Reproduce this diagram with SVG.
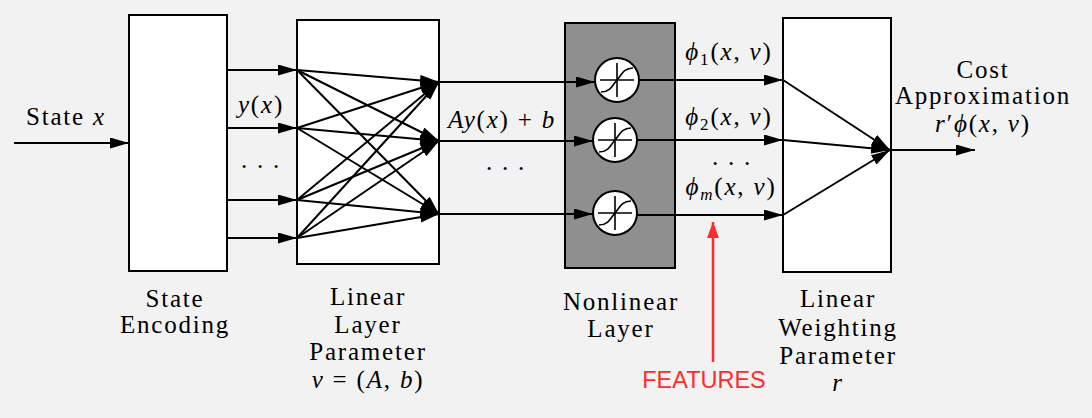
<svg xmlns="http://www.w3.org/2000/svg" xmlns:xlink="http://www.w3.org/1999/xlink" width="1092" height="418" viewBox="0 0 1092 418" font-family="Liberation Serif, Tinos, Times New Roman, Times, DejaVu Serif, serif">
<style>
  .box { fill: #ffffff; stroke: #000000; stroke-width: 2; }
  .dark { fill: #8f8f8f; stroke: #000000; stroke-width: 2; }
  .arr { stroke: #000000; stroke-width: 2; fill: none; marker-end: url(#ah); }
  .t { font-size: 25px; fill: #000000; text-anchor: middle; letter-spacing: 1.8px; }
  .i { font-style: italic; }
  .sub { font-size: 17px; }
  .feat { font-family: 'Liberation Sans', Arial, sans-serif; font-size: 23.5px; fill: #ff2b2b; text-anchor: middle; }
</style>
<defs>
  <marker id="ah" markerUnits="userSpaceOnUse" markerWidth="20" markerHeight="12" refX="19" refY="5.5" orient="auto">
    <path d="M0,0 L19,5.5 L0,11 z" fill="#000000"/>
  </marker>
  <marker id="ahr" markerUnits="userSpaceOnUse" markerWidth="17" markerHeight="13" refX="16" refY="6" orient="auto">
    <path d="M0,0 L16,6 L0,12 z" fill="#ff2b2b"/>
  </marker>
  <g id="sig">
    <circle cx="0" cy="0" r="22" fill="#ffffff" stroke="#000000" stroke-width="2"/>
    <path d="M-17,0 H17 M0,-17 V17" stroke="#000000" stroke-width="1.6" fill="none"/>
    <path d="M-16,12 C-6,12 -4,4 0,0 C4,-4 6,-12 16,-12" stroke="#000000" stroke-width="1.6" fill="none"/>
  </g>
</defs>
<rect width="1092" height="418" fill="#f2f2f2"/>

<g id="state-encoding">
  <rect class="box" x="129" y="15" width="98" height="256"/>
  <text class="t" x="175" y="307">State</text>
  <text class="t" x="175" y="333">Encoding</text>
</g>

<g id="linear-layer">
  <rect class="box" x="297" y="20" width="142" height="244"/>
  <text class="t" x="368" y="305">Linear</text>
  <text class="t" x="368" y="333">Layer</text>
  <text class="t" x="368" y="360">Parameter</text>
  <text class="t" x="368" y="388"><tspan class="i">v</tspan> = (<tspan class="i">A</tspan>, <tspan class="i">b</tspan>)</text>
</g>

<g id="nonlinear-layer">
  <rect class="dark" x="565" y="23" width="110" height="245"/>
  <text class="t" x="621" y="310">Nonlinear</text>
  <text class="t" x="621" y="337">Layer</text>
</g>

<g id="linear-weighting">
  <rect class="box" x="783" y="18" width="108" height="254"/>
  <text class="t" x="838" y="307">Linear</text>
  <text class="t" x="838" y="336">Weighting</text>
  <text class="t" x="838" y="364">Parameter</text>
  <text class="t i" x="838" y="391">r</text>
</g>

<g id="connectors">
  <line class="arr" x1="14" y1="143" x2="129" y2="143"/>
  <line class="arr" x1="227" y1="70" x2="297" y2="70"/>
  <line class="arr" x1="227" y1="128" x2="297" y2="128"/>
  <line class="arr" x1="227" y1="200" x2="297" y2="200"/>
  <line class="arr" x1="227" y1="238" x2="297" y2="238"/>
  <line class="arr" x1="297" y1="70" x2="439" y2="82"/>
  <line class="arr" x1="297" y1="70" x2="439" y2="141"/>
  <line class="arr" x1="297" y1="70" x2="439" y2="214"/>
  <line class="arr" x1="297" y1="128" x2="439" y2="82"/>
  <line class="arr" x1="297" y1="128" x2="439" y2="141"/>
  <line class="arr" x1="297" y1="128" x2="439" y2="214"/>
  <line class="arr" x1="297" y1="200" x2="439" y2="82"/>
  <line class="arr" x1="297" y1="200" x2="439" y2="141"/>
  <line class="arr" x1="297" y1="200" x2="439" y2="214"/>
  <line class="arr" x1="297" y1="238" x2="439" y2="82"/>
  <line class="arr" x1="297" y1="238" x2="439" y2="141"/>
  <line class="arr" x1="297" y1="238" x2="439" y2="214"/>
  <line class="arr" x1="439" y1="82" x2="595" y2="82"/>
  <line class="arr" x1="439" y1="141" x2="593" y2="141"/>
  <line class="arr" x1="439" y1="214" x2="593" y2="214"/>
  <line class="arr" x1="639" y1="80" x2="783" y2="80"/>
  <line class="arr" x1="637" y1="140" x2="783" y2="140"/>
  <line class="arr" x1="637" y1="215" x2="783" y2="215"/>
  <line class="arr" x1="783" y1="80" x2="890" y2="150"/>
  <line class="arr" x1="783" y1="140" x2="890" y2="150"/>
  <line class="arr" x1="783" y1="215" x2="890" y2="150"/>
  <line class="arr" x1="890" y1="150" x2="975" y2="150"/>
  <line x1="713" y1="362" x2="713" y2="222" stroke="#ff2b2b" stroke-width="2.5" marker-end="url(#ahr)"/>
</g>

<g id="nonlinear-units">
  <use xlink:href="#sig" x="617" y="80"/>
  <use xlink:href="#sig" x="615" y="140"/>
  <use xlink:href="#sig" x="615" y="213"/>
</g>

<g id="labels">
  <text class="t" x="66" y="125">State <tspan class="i">x</tspan></text>
  <text class="t" x="261" y="113"><tspan class="i">y</tspan>(<tspan class="i">x</tspan>)</text>
  <text class="t" x="261" y="168">. . .</text>
  <text class="t" x="502" y="128"><tspan class="i">Ay</tspan>(<tspan class="i">x</tspan>) + <tspan class="i">b</tspan></text>
  <text class="t" x="506" y="170">. . .</text>
  <text class="t" x="729" y="60"><tspan class="i">ϕ</tspan><tspan class="sub" dy="5">1</tspan><tspan dy="-5">(</tspan><tspan class="i">x</tspan>, <tspan class="i">v</tspan>)</text>
  <text class="t" x="729" y="125"><tspan class="i">ϕ</tspan><tspan class="sub" dy="5">2</tspan><tspan dy="-5">(</tspan><tspan class="i">x</tspan>, <tspan class="i">v</tspan>)</text>
  <text class="t" x="732" y="165">. . .</text>
  <text class="t" x="731" y="195"><tspan class="i">ϕ</tspan><tspan class="sub i" dy="5">m</tspan><tspan dy="-5">(</tspan><tspan class="i">x</tspan>, <tspan class="i">v</tspan>)</text>
  <text class="t" x="983" y="78">Cost</text>
  <text class="t" x="983" y="104">Approximation</text>
  <text class="t" x="983" y="132"><tspan class="i">r</tspan>′<tspan class="i">ϕ</tspan>(<tspan class="i">x</tspan>, <tspan class="i">v</tspan>)</text>
  <text class="feat" x="704" y="388">FEATURES</text>
</g>
</svg>
